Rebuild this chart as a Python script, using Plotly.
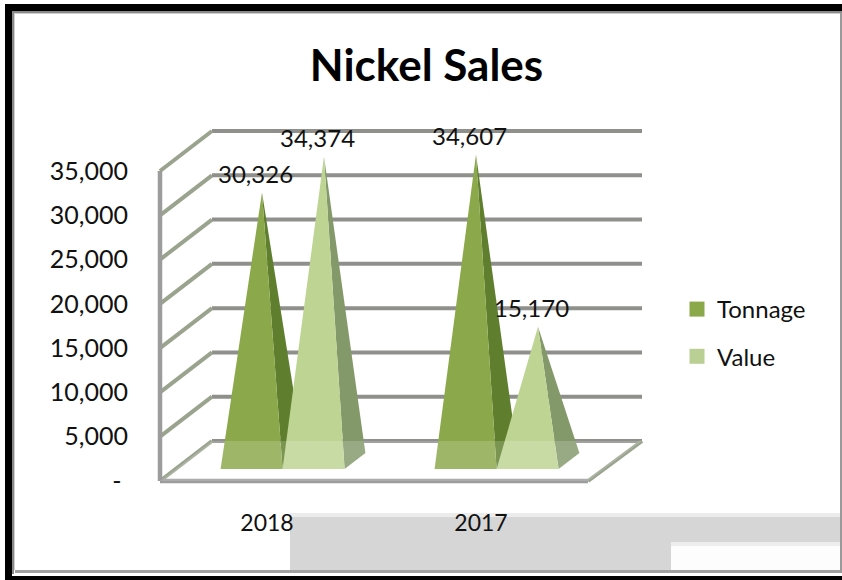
import plotly.graph_objects as go

categories = ["2018", "2017"]
tonnage = [30326, 34607]
value = [34374, 15170]
y_ticks = [0, 5000, 10000, 15000, 20000, 25000, 30000, 35000]
y_tick_labels = ["-\u00a0", "5,000", "10,000", "15,000", "20,000", "25,000", "30,000", "35,000"]
value_labels = {"Tonnage": ["30,326", "34,607"], "Value": ["34,374", "15,170"]}

W, H = 842, 580
# plot box in pixels, with a small pad round the drawn chart so thick lines are not clipped
L, R, T, B = 154, 648, 124, 488
FRONT_LEFT, BASE_Y = 160, 481
FONT = "Lato"
X_UNIT = 214.0
VAL_PER_PX = 35000 / 310.0
DX = 52 / X_UNIT
DY = 40 * VAL_PER_PX
X0 = -0.5
X_MIN = X0 - (FRONT_LEFT - L) / X_UNIT
X_MAX = X0 + (R - FRONT_LEFT) / X_UNIT
X_BACK = X0 + (642 - FRONT_LEFT) / X_UNIT
Y_MIN = -(B - BASE_Y) * VAL_PER_PX
Y_MAX = (BASE_Y - T) * VAL_PER_PX
FRONT_GAP = 0.3
BAR_DEPTH = 0.4
BAR_W = 62 / X_UNIT

def px(v):
    return (v - L) / (R - L)

def py(v):
    return (B - v) / (B - T)

def rect(x0, y0, x1, y1, color):
    return dict(type="rect", xref="paper", yref="paper", x0=px(x0), x1=px(x1), y0=py(y0), y1=py(y1),
                fillcolor=color, line_width=0, layer="below")

fig = go.Figure()

# walls and floor lines
grid_x, grid_y = [], []
for t in y_ticks:
    grid_x += [X0 + DX, X_BACK, None]
    grid_y += [t + DY, t + DY, None]
fig.add_trace(go.Scatter(x=grid_x, y=grid_y, mode="lines", line=dict(color="#8f8f8b", width=4),
                         hoverinfo="skip", showlegend=False))
side_x, side_y = [], []
for t in y_ticks:
    side_x += [X0, X0 + DX, None]
    side_y += [t, t + DY, None]
side_x += [1.5, X_BACK]
side_y += [0, DY]
fig.add_trace(go.Scatter(x=side_x, y=side_y, mode="lines", line=dict(color="#9aa38e", width=4),
                         hoverinfo="skip", showlegend=False))
fig.add_trace(go.Scatter(x=[X0, X0, None, X0, 1.5], y=[y_ticks[-1], 0, None, 0, 0], mode="lines",
                         line=dict(color="#9c9c9c", width=4.5), hoverinfo="skip", showlegend=False))

def poly(xs, ys, color):
    fig.add_trace(go.Scatter(x=xs + xs[:1], y=ys + ys[:1], mode="lines", fill="toself", fillcolor=color,
                             line=dict(width=0, color=color), hoverinfo="skip", showlegend=False))

STYLE = {"Tonnage": ("#8ba84a", "#5f7f2f"), "Value": ("#bdd493", "#84996a")}
for i in range(len(categories)):
    for j, (name, vals) in enumerate((("Tonnage", tonnage), ("Value", value))):
        left = i - BAR_W + j * BAR_W + DX * FRONT_GAP
        right = left + BAR_W
        base = DY * FRONT_GAP
        apex_x = (left + right) / 2 + DX * BAR_DEPTH / 2
        apex_y = base + DY * BAR_DEPTH / 2 + vals[i]
        front, side = STYLE[name]
        poly([right, right + DX * BAR_DEPTH, apex_x], [base, base + DY * BAR_DEPTH, apex_y], side)
        poly([left, right, apex_x], [base, base, apex_y], front)
        fig.add_annotation(x=apex_x, y=apex_y, text=value_labels[name][i], showarrow=False, xshift=-7, yshift=19,
                           font=dict(family=FONT, size=24, color="#111111"))

# translucent floor over the pyramid bases
fig.add_trace(go.Scatter(x=[X0, 1.5, X_BACK, X0 + DX, X0], y=[0, 0, DY, DY, 0], mode="lines", fill="toself",
                         fillcolor="rgba(255,255,255,0.17)", line=dict(width=0), hoverinfo="skip", showlegend=False))

# legend entries
for name, color in (("Tonnage", "#8ba84a"), ("Value", "#b9cf93")):
    fig.add_trace(go.Scatter(x=[None], y=[None], mode="markers", name=name, legendgroup=name,
                             marker=dict(symbol="square", size=15, color=color)))

shapes = [
    rect(290, 513, W, 517, "#ececec"),
    rect(290, 517, W, 570, "#d6d6d6"),
    rect(671, 542, W, 546, "#eeeeee"),
    rect(671, 546, W, 570, "#fdfdfd"),
    rect(5, 4, W, 11, "#000000"),
    rect(5, 4, 12, 580, "#000000"),
    rect(5, 576, W, 580, "#000000"),
    rect(12, 11, W, 13, "#8a8a8a"),
    rect(12, 13, W, 14, "#cfcfcf"),
    rect(12, 11, 14, 574, "#8a8a8a"),
    rect(14, 13, 15, 570, "#cfcfcf"),
    rect(15, 570, W, 573, "#a0a0a0"),
    rect(840, 13, W, 573, "#9a9a9a"),
]

fig.update_layout(
    width=W, height=H, margin=dict(l=L, r=W - R, t=T, b=H - B, autoexpand=False),
    paper_bgcolor="#ffffff", plot_bgcolor="rgba(0,0,0,0)", shapes=shapes,
    font=dict(family=FONT, color="#111111", size=24),
    title=dict(text="<b>Nickel Sales</b>", x=426.5 / W, xanchor="center", y=1 - 66 / H, yanchor="middle",
               font=dict(family=FONT, size=44, color="#000000")),
    legend=dict(xref="container", yref="container", x=677 / W, y=1 - 287 / H, xanchor="left", yanchor="top",
                bgcolor="rgba(0,0,0,0)", font=dict(family=FONT, size=24, color="#111111"), tracegroupgap=13,
                itemwidth=30),
    xaxis=dict(range=[X_MIN, X_MAX], tickmode="array", tickvals=list(range(len(categories))), ticktext=categories,
               showgrid=False, zeroline=False, showline=False, ticks="outside", ticklen=14, tickcolor="rgba(0,0,0,0)",
               tickfont=dict(family=FONT, size=23, color="#111111")),
    yaxis=dict(range=[Y_MIN, Y_MAX], tickmode="array", tickvals=y_ticks, ticktext=y_tick_labels,
               showgrid=False, zeroline=False, showline=False, ticks="outside", ticklen=20, tickcolor="rgba(0,0,0,0)",
               tickfont=dict(family=FONT, size=25, color="#111111")),
)

fig.write_html("out.html", config={"displayModeBar": False},
               post_script="document.body.style.margin='0';document.documentElement.style.overflow='hidden';")
